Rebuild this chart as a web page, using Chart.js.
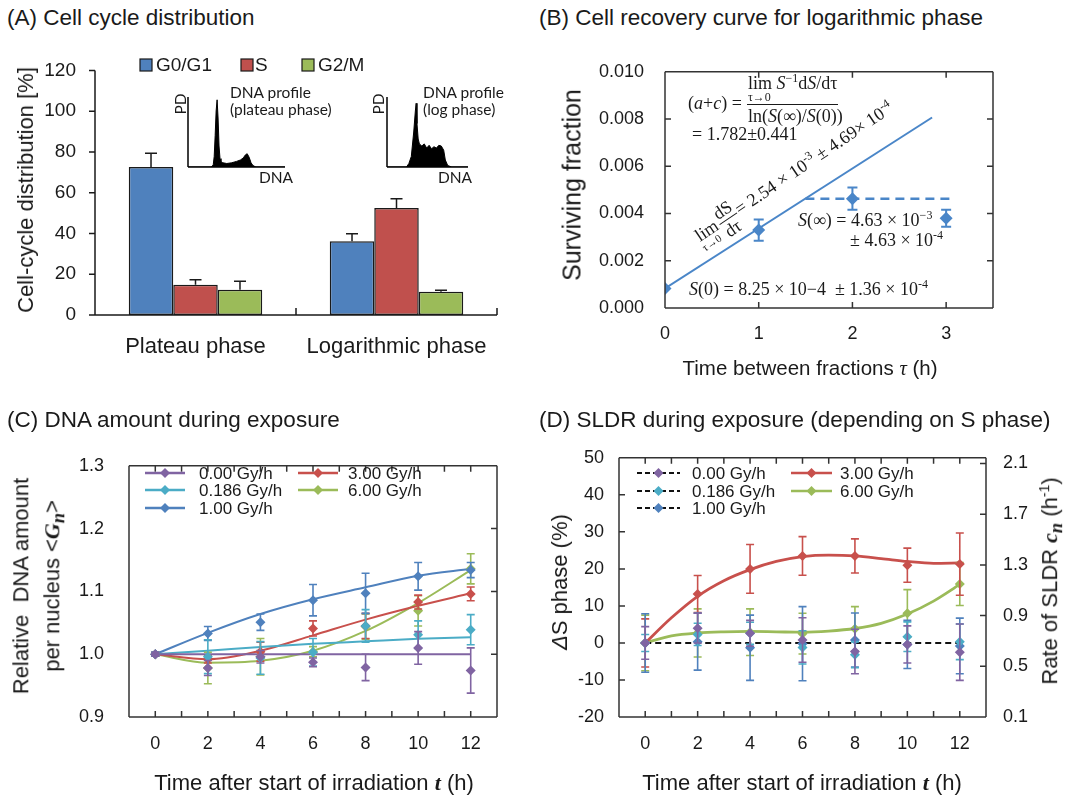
<!DOCTYPE html>
<html>
<head>
<meta charset="utf-8">
<title>Cell cycle, recovery and SLDR</title>
<script src="https://cdn.jsdelivr.net/npm/chart.js@4.4.1/dist/chart.umd.min.js"></script>
<style>
  body { margin:0; background:#fff; width:1073px; height:796px; position:relative; overflow:hidden;
         font-family:'Liberation Sans', Arial, sans-serif; color:#1a1a1a; }
  canvas { position:absolute; }
  .ptitle { position:absolute; font-size:22.5px; white-space:nowrap; }
  .vt { position:absolute; white-space:nowrap; text-align:center; transform:translate(-50%,-50%) rotate(-90deg); }
  .ht { position:absolute; white-space:nowrap; transform:translate(-50%,-50%); }
  .serif { font-family:'Liberation Serif', 'Times New Roman', serif; }
  .inset { position:absolute; font-family:Lato, 'Open Sans', sans-serif; font-size:15.5px; line-height:17px; white-space:nowrap; }
</style>
</head>
<body>

<canvas id="cycleChart" width="530" height="330" style="left:0;top:40px"></canvas>
<canvas id="plateauProfile" width="106" height="78" style="left:184px;top:93px"></canvas>
<canvas id="logProfile" width="90" height="78" style="left:383px;top:93px"></canvas>
<canvas id="recoveryChart" width="537" height="345" style="left:536px;top:40px"></canvas>
<canvas id="dnaChart" width="530" height="366" style="left:0;top:430px"></canvas>
<canvas id="sldrChart" width="537" height="366" style="left:536px;top:430px"></canvas>

<div class="ptitle" style="left:7px;top:5px">(A) Cell cycle distribution</div>
<div class="ptitle" style="left:539px;top:5px">(B) Cell recovery curve for logarithmic phase</div>
<div class="ptitle" style="left:7px;top:407px">(C) DNA amount during exposure</div>
<div class="ptitle" style="left:539px;top:407px">(D) SLDR during exposure (depending on S phase)</div>

<div class="vt" style="left:26px;top:190px;font-size:22px">Cell-cycle distribution [%]</div>
<div class="inset" style="left:230px;top:84px">DNA profile<br>(plateau phase)</div>
<div class="inset" style="left:259px;top:169px">DNA</div>
<div class="inset vt" style="left:180px;top:104px">PD</div>
<div class="inset" style="left:423px;top:84px">DNA profile<br>(log phase)</div>
<div class="inset" style="left:438px;top:169px">DNA</div>
<div class="inset vt" style="left:378px;top:104px">PD</div>

<div class="vt" style="left:572px;top:185px;font-size:25px">Surviving fraction</div>
<div class="ht" style="left:810px;top:368px;font-size:20.5px">Time between fractions <i class="serif">τ</i> (h)</div>

<div class="vt" style="left:40px;top:586px;font-size:22px;line-height:31px">Relative&nbsp; DNA amount<br>per nucleus &lt;<b class="serif"><i>G<sub>n</sub></i></b>&gt;</div>
<div class="ht" style="left:314px;top:783px;font-size:22px">Time after start of irradiation <b class="serif"><i>t</i></b> (h)</div>

<div class="vt" style="left:560px;top:582px;font-size:22px"><i>Δ</i>S phase (%)</div>
<div class="vt" style="left:1052px;top:581px;font-size:22px">Rate of SLDR <b class="serif"><i>c<sub>n</sub></i></b> (h<sup style="font-size:14px">-1</sup>)</div>
<div class="ht" style="left:802px;top:783px;font-size:22px">Time after start of irradiation <b class="serif"><i>t</i></b> (h)</div>

<script>
// ---- (A) cell-cycle distribution ----
const phaseGroups = ['Plateau phase', 'Logarithmic phase'];
const phaseNames  = ['G0/G1', 'S', 'G2/M'];
const phaseG1     = [72.6, 36.2];
const phaseS      = [14.8, 52.5];
const phaseG2M    = [12.4, 11.4];
const phaseG1Err  = [6.7, 3.7];
const phaseSErr   = [2.5, 4.5];
const phaseG2MErr = [4.1, 0.8];
const pctTicks    = [0, 20, 40, 60, 80, 100, 120];

// inset flow-cytometry profiles (relative channel / relative count)
const plateauProfileX = [0, 0.24, 0.26, 0.27, 0.28, 0.29, 0.30, 0.31, 0.32, 0.33, 0.34, 0.36, 0.40, 0.45, 0.50, 0.54, 0.57, 0.59, 0.61, 0.63, 0.65, 0.67, 0.70, 1];
const plateauProfileY = [0, 0,    0.03, 0.15, 0.45, 0.80, 0.96, 0.70, 0.30, 0.12, 0.07, 0.06, 0.05, 0.06, 0.08, 0.10, 0.13, 0.17, 0.19, 0.14, 0.06, 0.02, 0,    0];
const logProfileX = [0, 0.24, 0.27, 0.30, 0.33, 0.35, 0.36, 0.37, 0.385, 0.40, 0.43, 0.46, 0.49, 0.52, 0.55, 0.58, 0.61, 0.64, 0.67, 0.70, 0.72, 0.75, 0.80, 1];
const logProfileY = [0, 0,    0.05, 0.15, 0.50, 0.80, 0.91, 0.62, 0.40, 0.33, 0.30, 0.33, 0.27, 0.31, 0.26, 0.29, 0.27, 0.31, 0.30, 0.24, 0.10, 0.02, 0,    0];

// ---- (B) recovery curve ----
const fracTimes = [0, 1, 2, 3];
const survFrac  = [0.000825, 0.0033, 0.00463, 0.0038];
const survErr   = [0, 0.00045, 0.00047, 0.00036];
const s0 = 8.25e-4;          // S(0)
const initSlope = 2.54e-3;   // lim dS/dτ
const sInf = 4.63e-3;        // S(∞)
const fitEndTau = 2.85;
const plateauEndTau = 3.06;
const tauTicks  = [0, 1, 2, 3];
const survTicks = [0, 0.002, 0.004, 0.006, 0.008, 0.010];

// ---- (C) and (D) shared ----
const doseLabels = ['0.00 Gy/h', '0.186 Gy/h', '1.00 Gy/h', '3.00 Gy/h', '6.00 Gy/h'];
const doseColors = ['#8064a2', '#4bacc6', '#4f81bd', '#c8504c', '#9bbb59'];
const hours      = [0, 2, 4, 6, 8, 10, 12];
const hourTicks  = [0, 1, 2, 3, 4, 5, 6, 7, 8, 9, 10, 11, 12];

// (C) relative DNA amount per nucleus <Gn>
const gn000  = [1.000, 0.978, 0.996, 0.987, 0.979, 1.010, 0.974];
const gn0186 = [1.000, 0.996, 0.994, 1.003, 1.045, 1.031, 1.039];
const gn100  = [1.000, 1.033, 1.051, 1.086, 1.097, 1.124, 1.134];
const gn300  = [1.000, 0.992, 1.004, 1.041, 1.045, 1.083, 1.096];
const gn600  = [1.000, 0.978, 0.996, 1.004, 1.044, 1.069, 1.136];
const gn000Err  = [0.003, 0.012, 0.010, 0.007, 0.021, 0.026, 0.036];
const gn0186Err = [0.003, 0.027, 0.026, 0.022, 0.026, 0.022, 0.024];
const gn100Err  = [0.003, 0.011, 0.013, 0.025, 0.032, 0.022, 0.012];
const gn300Err  = [0.003, 0.006, 0.015, 0.012, 0.020, 0.011, 0.011];
const gn600Err  = [0.003, 0.025, 0.029, 0.008, 0.020, 0.024, 0.024];
const gnFit000  = [1.000, 1.000, 1.000, 1.000, 1.000, 1.000, 1.000];
const gnFit0186 = [1.000, 1.0055, 1.0115, 1.0165, 1.0205, 1.0245, 1.027];
const gnFit100  = [1.000, 1.034, 1.064, 1.0875, 1.1065, 1.125, 1.136];
const gnFit300  = [1.000, 0.992, 1.0055, 1.030, 1.055, 1.077, 1.097];
const gnFit600  = [1.000, 0.9865, 0.9895, 1.0055, 1.037, 1.0815, 1.134];
const gnTicks   = [0.9, 1.0, 1.1, 1.2, 1.3];

// (D) change of S-phase fraction
const ds000  = [0, 4.0, 2.6, 0.8, -2.3, -0.4, -2.5];
const ds0186 = [0, 2.3, 2.6, -1.2, -3.2, 1.7, 0.3];
const ds100  = [0, 0.35, -1.3, -0.2, 0.8, -0.4, -0.8];
const ds300  = [0, 13.2, 20.0, 23.5, 23.5, 21.0, 21.3];
const ds600  = [0, 2.7, 2.9, 2.5, 3.8, 8.0, 15.9];
const ds000Err  = [4.4, 4.0, 3.5, 6.0, 6.0, 5.0, 7.6];
const ds0186Err = [2.3, 3.0, 3.0, 4.5, 3.5, 4.0, 4.8];
const ds100Err  = [7.9, 7.7, 8.8, 10.0, 7.3, 6.5, 7.5];
const ds300Err  = [6.5, 5.0, 6.6, 5.2, 4.6, 4.6, 8.4];
const ds600Err  = [7.5, 6.5, 6.3, 5.5, 6.0, 6.4, 5.8];
const dsFitLow = [0, 0];
const dsFitLowHours = [0, 12];
const dsFit300 = [0, 6.8, 12.6, 16.8, 19.8, 22.0, 23.3, 23.7, 23.5, 22.8, 22.0, 21.5, 21.6];
const dsFit600 = [0, 1.9, 2.7, 3.0, 3.1, 3.0, 2.9, 3.2, 3.9, 5.3, 7.8, 11.3, 15.8];
const dsTicks   = [-20, -10, 0, 10, 20, 30, 40, 50];
const rateTicks = [0.1, 0.5, 0.9, 1.3, 1.7, 2.1];

const SANS  = "'Liberation Sans', Arial, sans-serif";
const SERIF = "'Liberation Serif', 'Times New Roman', serif";
const INK   = '#1a1a1a';
const FRAME = '#333';
const PHASE_COLORS = ['#4f81bd', '#c0504d', '#9bbb59'];
const SURV_BLUE = '#4a86c8';

Chart.defaults.font.family = SANS;
Chart.defaults.color = INK;

const fixedWidth  = w => s => { s.width = w; };
const fixedHeight = h => s => { s.height = h; };
const setTicks = list => s => { s.ticks = list.map(v => ({ value: v })); };
const pts = (xs, ys) => xs.map((x, i) => ({ x: x, y: ys[i] }));

function plainAxis(extra) {
  return Object.assign({
    grid: { display: false, drawTicks: false },
    border: { display: false }
  }, extra);
}

// frame / axis lines and inward tick marks
function frame(cfg) {
  return {
    id: 'frame',
    afterDatasetsDraw(chart) {
      const ctx = chart.ctx, a = chart.chartArea;
      ctx.save();
      ctx.strokeStyle = cfg.color || FRAME;
      ctx.lineWidth = cfg.width || 1.5;
      ctx.beginPath();
      (cfg.edges || []).forEach(e => {
        if (e === 'left')   { ctx.moveTo(a.left, a.top);  ctx.lineTo(a.left, a.bottom); }
        if (e === 'right')  { ctx.moveTo(a.right, a.top); ctx.lineTo(a.right, a.bottom); }
        if (e === 'top')    { ctx.moveTo(a.left, a.top);  ctx.lineTo(a.right, a.top); }
        if (e === 'bottom') { ctx.moveTo(a.left, a.bottom); ctx.lineTo(a.right, a.bottom); }
      });
      (cfg.marks || []).forEach(m => {
        const s = chart.scales[m.scale];
        m.values.forEach(v => {
          const p = s.getPixelForValue(v);
          if (m.side === 'top')    { ctx.moveTo(p, a.top);    ctx.lineTo(p, a.top + m.len); }
          if (m.side === 'bottom') { ctx.moveTo(p, a.bottom); ctx.lineTo(p, a.bottom - m.len); }
          if (m.side === 'left')   { ctx.moveTo(a.left, p);   ctx.lineTo(a.left + m.len, p); }
          if (m.side === 'right')  { ctx.moveTo(a.right, p);  ctx.lineTo(a.right - m.len, p); }
        });
      });
      ctx.stroke();
      ctx.restore();
    }
  };
}

// vertical error bars read from dataset.errors
function errorBars(cfg) {
  const hook = cfg.under ? 'beforeDatasetDraw' : 'afterDatasetDraw';
  return {
    id: 'errorBars',
    [hook](chart, args) {
      const ds = chart.data.datasets[args.index];
      if (!ds.errors) return;
      const meta = args.meta;
      const ys = chart.scales[meta.yAxisID];
      const ctx = chart.ctx;
      ctx.save();
      ctx.strokeStyle = cfg.color || ds.borderColor;
      ctx.lineWidth = cfg.width;
      ctx.beginPath();
      meta.data.forEach((el, j) => {
        const e = ds.errors[j];
        if (!e) return;
        const d = ds.data[j];
        const v = typeof d === 'number' ? d : d.y;
        const top = ys.getPixelForValue(v + e);
        const bot = ys.getPixelForValue(cfg.upOnly ? v : v - e);
        ctx.moveTo(el.x, top); ctx.lineTo(el.x, bot);
        ctx.moveTo(el.x - cfg.cap, top); ctx.lineTo(el.x + cfg.cap, top);
        if (!cfg.upOnly) { ctx.moveTo(el.x - cfg.cap, bot); ctx.lineTo(el.x + cfg.cap, bot); }
      });
      ctx.stroke();
      ctx.restore();
    }
  };
}

// line + diamond key used in (C) and (D)
function doseKey(items) {
  return {
    id: 'doseKey',
    afterDraw(chart) {
      const ctx = chart.ctx;
      ctx.save();
      items.forEach(it => {
        ctx.strokeStyle = it.line;
        ctx.lineWidth = it.lw;
        ctx.setLineDash(it.dash || []);
        ctx.beginPath(); ctx.moveTo(it.x0, it.y); ctx.lineTo(it.x1, it.y); ctx.stroke();
        ctx.setLineDash([]);
        const m = (it.x0 + it.x1) / 2, r = 5;
        ctx.fillStyle = it.color;
        ctx.beginPath();
        ctx.moveTo(m, it.y - r); ctx.lineTo(m + r, it.y); ctx.lineTo(m, it.y + r); ctx.lineTo(m - r, it.y);
        ctx.closePath(); ctx.fill();
        ctx.fillStyle = INK;
        ctx.font = '17px ' + SANS;
        ctx.textBaseline = 'middle';
        ctx.fillText(it.label, it.tx, it.y + 1);
      });
      ctx.restore();
    }
  };
}

const common = { responsive: false, animation: false, events: [] };
const noLegend = { legend: { display: false }, tooltip: { enabled: false } };

// ---------- (A) bar chart ----------
const phaseSeries = [
  { label: phaseNames[0], data: phaseG1,  errors: phaseG1Err,  backgroundColor: PHASE_COLORS[0] },
  { label: phaseNames[1], data: phaseS,   errors: phaseSErr,   backgroundColor: PHASE_COLORS[1] },
  { label: phaseNames[2], data: phaseG2M, errors: phaseG2MErr, backgroundColor: PHASE_COLORS[2] }
];
phaseSeries.forEach(s => Object.assign(s, {
  borderColor: INK, borderWidth: 1.5, borderSkipped: false, categoryPercentage: 0.664, barPercentage: 1
}));

new Chart(document.getElementById('cycleChart'), {
  type: 'bar',
  data: { labels: phaseGroups, datasets: phaseSeries },
  options: Object.assign({}, common, {
    layout: { padding: { left: 10, top: 23, right: 33, bottom: 10 } },
    plugins: noLegend,
    scales: {
      x: plainAxis({ ticks: { font: { size: 22 }, color: INK, padding: 19 }, afterFit: fixedHeight(45) }),
      y: plainAxis({ min: 0, max: 120, ticks: { font: { size: 19 }, color: INK, padding: 19 },
                     afterBuildTicks: setTicks(pctTicks), afterFit: fixedWidth(85) })
    }
  }),
  plugins: [
    errorBars({ color: INK, width: 1.5, cap: 6, upOnly: true }),
    frame({ color: INK, edges: ['left', 'bottom'], marks: [
      { scale: 'y', side: 'left', values: pctTicks, len: -6 },
      { scale: 'x', side: 'bottom', values: [0.5, 1.5], len: 7 }
    ] }),
    {
      id: 'phaseKey',
      afterDraw(chart) {
        const ctx = chart.ctx;
        const boxX = [140, 241, 302], textX = [156, 255, 318], y = 25;
        ctx.save();
        phaseNames.forEach((name, i) => {
          ctx.fillStyle = PHASE_COLORS[i];
          ctx.fillRect(boxX[i], y - 6, 12, 12);
          ctx.strokeStyle = INK; ctx.lineWidth = 1.2;
          ctx.strokeRect(boxX[i], y - 6, 12, 12);
          ctx.fillStyle = INK;
          ctx.font = '19px ' + SANS;
          ctx.textBaseline = 'middle';
          ctx.fillText(name, textX[i], y + 1);
        });
        ctx.restore();
      }
    }
  ]
});

// ---------- (A) insets ----------
function profileChart(id, xs, ys, padRight) {
  new Chart(document.getElementById(id), {
    type: 'line',
    data: { datasets: [{ data: pts(xs, ys), borderColor: '#000', backgroundColor: '#000', borderWidth: 1,
                         pointRadius: 0, fill: 'origin', tension: 0 }] },
    options: Object.assign({}, common, {
      layout: { padding: { left: 4, top: 4, right: padRight, bottom: 4 } },
      plugins: noLegend,
      scales: {
        x: { type: 'linear', min: 0, max: 1, display: false },
        y: { min: 0, max: 1, display: false }
      }
    }),
    plugins: [frame({ color: '#000', width: 1.5, edges: ['left', 'bottom'] })]
  });
}
profileChart('plateauProfile', plateauProfileX, plateauProfileY, 5);
profileChart('logProfile', logProfileX, logProfileY, 5);

// ---------- (B) recovery curve ----------
function drawRuns(ctx, x, y, runs) {
  runs.forEach(r => {
    ctx.font = r[1];
    ctx.fillText(r[0], x, y + (r[2] || 0));
    x += ctx.measureText(r[0]).width;
  });
  return x;
}

const fitTau = [0, fitEndTau];
const fitSurv = fitTau.map(t => s0 + initSlope * t);
const crossTau = (sInf - s0) / initSlope;

new Chart(document.getElementById('recoveryChart'), {
  type: 'scatter',
  data: { datasets: [
    { data: pts(fracTimes, survFrac), errors: survErr, pointStyle: 'rectRot', pointRadius: 6.5,
      backgroundColor: SURV_BLUE, borderColor: SURV_BLUE, borderWidth: 0 },
    { data: pts(fitTau, fitSurv), showLine: true, pointRadius: 0, borderColor: SURV_BLUE, borderWidth: 2 },
    { data: pts([crossTau, plateauEndTau], [sInf, sInf]), showLine: true, pointRadius: 0,
      borderColor: SURV_BLUE, borderWidth: 2.5, borderDash: [9, 6] }
  ] },
  options: Object.assign({}, common, {
    layout: { padding: { left: 29, top: 24, right: 80, bottom: 27 } },
    plugins: noLegend,
    scales: {
      x: plainAxis({ type: 'linear', min: 0, max: 3.5, ticks: { font: { size: 18 }, color: INK, padding: 15 },
                     afterBuildTicks: setTicks(tauTicks), afterFit: fixedHeight(50) }),
      y: plainAxis({ min: 0, max: 0.010, ticks: { font: { size: 18 }, color: INK, padding: 21, callback: v => v.toFixed(3) },
                     afterBuildTicks: setTicks(survTicks), afterFit: fixedWidth(100) })
    }
  }),
  plugins: [
    errorBars({ color: SURV_BLUE, width: 2, cap: 5 }),
    frame({ edges: ['left', 'right', 'top', 'bottom'], marks: [
      { scale: 'x', side: 'top', values: [1, 2, 3], len: 6 },
      { scale: 'x', side: 'bottom', values: [1, 2, 3], len: 6 },
      { scale: 'y', side: 'left', values: [0.002, 0.004, 0.006, 0.008], len: 6 },
      { scale: 'y', side: 'right', values: [0.002, 0.004, 0.006, 0.008], len: 6 }
    ] }),
    {
      id: 'recoveryNotes',
      afterDraw(chart) {
        const ctx = chart.ctx;
        const N = '18px ' + SERIF, I = 'italic 18px ' + SERIF, SM = '12px ' + SERIF, SUP = '12px ' + SERIF;
        ctx.save();
        ctx.fillStyle = INK;
        ctx.textBaseline = 'alphabetic';
        // (a+c) expression
        drawRuns(ctx, 152, 69, [['(', N], ['a', I], ['+', N], ['c', I], [') =', N]]);
        drawRuns(ctx, 212, 49, [['lim ', N], ['S', I], ['−1', SUP, -7], ['d', N], ['S', I], ['/dτ', N]]);
        ctx.font = SM; ctx.fillText('τ→0', 212, 61);
        ctx.strokeStyle = INK; ctx.lineWidth = 1;
        ctx.beginPath(); ctx.moveTo(211, 64.5); ctx.lineTo(302, 64.5); ctx.stroke();
        drawRuns(ctx, 212, 82, [['ln(', N], ['S', I], ['(∞)/', N], ['S', I], ['(0))', N]]);
        drawRuns(ctx, 156, 100, [['= 1.782±0.441', N]]);
        // plateau and initial value
        drawRuns(ctx, 262, 186, [['S', I], ['(∞) = 4.63 × 10', N], ['−3', SUP, -7]]);
        drawRuns(ctx, 314, 206, [['± 4.63 × 10', N], ['-4', SUP, -7]]);
        drawRuns(ctx, 153, 255, [['S', I], ['(0) = 8.25 × 10−4  ± 1.36 × 10', N], ['-4', SUP, -7]]);
        // initial slope, written along the fitted line
        ctx.translate(164, 202);
        ctx.rotate(-34 * Math.PI / 180);
        drawRuns(ctx, 0, 0, [['lim', N]]);
        ctx.font = '11px ' + SERIF; ctx.fillText('τ→0', -1, 11);
        drawRuns(ctx, 27, -8, [['dS', N]]);
        drawRuns(ctx, 27, 13, [['dτ', N]]);
        ctx.beginPath(); ctx.moveTo(26, -3.5); ctx.lineTo(47, -3.5); ctx.stroke();
        drawRuns(ctx, 48, 0, [['= 2.54 × 10', N], ['-3', SUP, -7], [' ± 4.69× 10', N], ['-4', SUP, -7]]);
        ctx.restore();
      }
    }
  ]
});

// ---------- (C) DNA amount ----------
const C_MARK = 5;
function markerSet(label, color, xs, ys, errs) {
  return { label: label, data: pts(xs, ys), errors: errs, pointStyle: 'rectRot', pointRadius: C_MARK,
           backgroundColor: color, borderColor: color, borderWidth: 0, showLine: false };
}
function curveSet(color, xs, ys, width, dash) {
  return { data: pts(xs, ys), showLine: true, pointRadius: 0, borderColor: color, borderWidth: width,
           borderDash: dash || [], cubicInterpolationMode: 'monotone', fill: false };
}

const gnValues = [gn000, gn0186, gn100, gn300, gn600];
const gnErrors = [gn000Err, gn0186Err, gn100Err, gn300Err, gn600Err];
const gnFits   = [gnFit000, gnFit0186, gnFit100, gnFit300, gnFit600];

const cKeyCols = [{ x0: 145, x1: 185, tx: 199 }, { x0: 298, x1: 338, tx: 348 }];
const cKeyRows = [43, 60, 78];
const keySlots = [[0, 0], [0, 1], [0, 2], [1, 0], [1, 1]];

new Chart(document.getElementById('dnaChart'), {
  type: 'scatter',
  data: { datasets: [].concat(
    gnValues.map((v, i) => markerSet(doseLabels[i], doseColors[i], hours, v, gnErrors[i])),
    gnFits.map((f, i) => curveSet(doseColors[i], hours, f, 2))
  ) },
  options: Object.assign({}, common, {
    layout: { padding: { left: 29, top: 20, right: 33, bottom: 29 } },
    plugins: noLegend,
    scales: {
      x: plainAxis({ type: 'linear', min: -1, max: 13,
                     ticks: { font: { size: 18 }, color: INK, padding: 16, autoSkip: false, maxRotation: 0,
                              callback: v => (v % 2 === 0 ? v : '') },
                     afterBuildTicks: setTicks(hourTicks), afterFit: fixedHeight(50) }),
      y: plainAxis({ min: 0.9, max: 1.3, ticks: { font: { size: 18 }, color: INK, padding: 25, callback: v => v.toFixed(1) },
                     afterBuildTicks: setTicks(gnTicks), afterFit: fixedWidth(100) })
    }
  }),
  plugins: [
    errorBars({ width: 1.6, cap: 4, under: true }),
    frame({ edges: ['left', 'right', 'top', 'bottom'], marks: [
      { scale: 'x', side: 'top', values: hourTicks, len: 6 },
      { scale: 'x', side: 'bottom', values: hourTicks, len: 6 },
      { scale: 'y', side: 'right', values: [1.0, 1.1, 1.2], len: 6 }
    ] }),
    doseKey(doseLabels.map((label, i) => {
      const col = cKeyCols[keySlots[i][0]];
      return { label: label, color: doseColors[i], line: doseColors[i], lw: 2.5,
               x0: col.x0, x1: col.x1, tx: col.tx, y: cKeyRows[keySlots[i][1]] };
    }))
  ]
});

// ---------- (D) SLDR ----------
const dsValues = [ds000, ds0186, ds100, ds300, ds600];
const dsErrors = [ds000Err, ds0186Err, ds100Err, ds300Err, ds600Err];
const dKeyCols = [{ x0: 101, x1: 144, tx: 156 }, { x0: 255, x1: 296, tx: 304 }];
const dKeyRows = [43, 61, 78];

new Chart(document.getElementById('sldrChart'), {
  type: 'scatter',
  data: { datasets: [].concat(
    dsValues.map((v, i) => markerSet(doseLabels[i], doseColors[i], hours, v, dsErrors[i])),
    [
      curveSet('#111', dsFitLowHours, dsFitLow, 2, [6, 4]),
      curveSet(doseColors[3], hourTicks, dsFit300, 2.8),
      curveSet(doseColors[4], hourTicks, dsFit600, 2.8)
    ]
  ) },
  options: Object.assign({}, common, {
    layout: { padding: { left: 23, top: 18, right: 37, bottom: 29 } },
    plugins: noLegend,
    scales: {
      x: plainAxis({ type: 'linear', min: -1, max: 13,
                     ticks: { font: { size: 18 }, color: INK, padding: 16, autoSkip: false, maxRotation: 0,
                              callback: v => (v % 2 === 0 ? v : '') },
                     afterBuildTicks: setTicks(hourTicks), afterFit: fixedHeight(50) }),
      y: plainAxis({ min: -20, max: 50, ticks: { font: { size: 18 }, color: INK, padding: 15 },
                     afterBuildTicks: setTicks(dsTicks), afterFit: fixedWidth(60) }),
      y2: plainAxis({ position: 'right', min: 0.1, max: 2.145,
                      ticks: { font: { size: 18 }, color: INK, padding: 17, callback: v => v.toFixed(1) },
                      afterBuildTicks: setTicks(rateTicks), afterFit: fixedWidth(50) })
    }
  }),
  plugins: [
    errorBars({ width: 1.6, cap: 4, under: true }),
    frame({ edges: ['left', 'right', 'top', 'bottom'], marks: [
      { scale: 'x', side: 'top', values: hourTicks, len: 6 },
      { scale: 'x', side: 'bottom', values: hourTicks, len: 6 },
      { scale: 'y', side: 'left', values: [-10, 0, 10, 20, 30, 40], len: 6 },
      { scale: 'y2', side: 'right', values: [0.5, 0.9, 1.3, 1.7, 2.1], len: 6 }
    ] }),
    doseKey(doseLabels.map((label, i) => {
      const col = dKeyCols[keySlots[i][0]];
      const low = i < 3;
      return { label: label, color: doseColors[i], line: low ? '#111' : doseColors[i], lw: low ? 2 : 2.5,
               dash: low ? [5, 3] : [], x0: col.x0, x1: col.x1, tx: col.tx, y: dKeyRows[keySlots[i][1]] };
    }))
  ]
});
</script>
</body>
</html>
